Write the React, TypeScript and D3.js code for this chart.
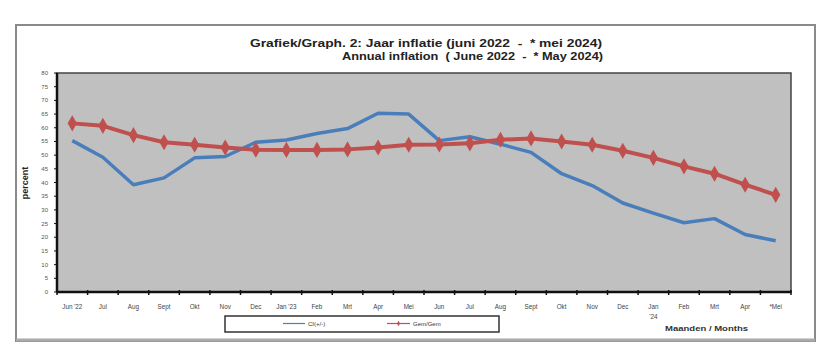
import React from "react";
import * as d3 from "d3";

const months = ["Jun '22", "Jul", "Aug", "Sept", "Okt", "Nov", "Dec", "Jan '23", "Feb", "Mrt", "Apr", "Mei", "Jun", "Jul", "Aug", "Sept", "Okt", "Nov", "Dec", "Jan\n'24", "Feb", "Mrt", "Apr", "*Mei"];
const blueValues = [55.3, 49.2, 39.2, 41.7, 49.0, 49.5, 54.7, 55.5, 57.9, 59.7, 65.3, 65.0, 55.3, 56.7, 54.0, 51.0, 43.2, 38.9, 32.5, 28.8, 25.3, 26.8, 21.0, 18.7];
const redValues = [61.6, 60.7, 57.3, 54.7, 53.8, 52.8, 52.0, 51.9, 51.9, 52.1, 52.8, 53.8, 53.9, 54.3, 55.6, 56.1, 55.0, 53.8, 51.6, 49.0, 45.9, 43.2, 39.2, 35.5];
const yTicks = d3.range(0, 81, 5);
const seriesNames = ["CI(+/-)", "Gem/Gem"];
const titleLines = ["Grafiek/Graph. 2: Jaar inflatie (juni 2022  -  * mei 2024)", "Annual inflation  ( June 2022  -  * May 2024)"];

export default function App() {
  const W = 828, H = 355;
  const left = 57, right = 791, top = 73, bottom = 292;
  const x = d3.scaleBand<number>().domain(d3.range(months.length)).range([left, right]);
  const y = d3.scaleLinear().domain([0, 80]).range([bottom, top]);
  const cx = (i: number) => (x(i) as number) + x.bandwidth() / 2;
  const line = d3.line<number>().x((_, i) => cx(i)).y((v) => y(v));
  const diamond = d3.symbol().type(d3.symbolDiamond).size(75)() as string;
  const blue = "#4a7ebb";
  const red = "#c0504d";
  const font = "Liberation Sans, Arial, sans-serif";

  return (
    <svg width={W} height={H} style={{ position: "absolute", left: 0, top: 0, background: "#fff" }} fontFamily={font}>
      {/* outer frame */}
      <rect x={16} y={25} width={799} height={316} fill="#fff" stroke="#8a8a8a" strokeWidth={2} />
      <line x1={16} x2={815} y1={340} y2={340} stroke="#aaa" strokeWidth={3} />
      {/* title */}
      <text x={250} y={47} fontSize={11.5} fontWeight="bold" fill="#222" textLength={352} lengthAdjust="spacingAndGlyphs" style={{ whiteSpace: "pre" }}>{titleLines[0]}</text>
      <text x={342} y={60} fontSize={11.5} fontWeight="bold" fill="#222" textLength={261} lengthAdjust="spacingAndGlyphs" style={{ whiteSpace: "pre" }}>{titleLines[1]}</text>
      {/* plot area */}
      <rect x={left} y={top} width={right - left} height={bottom - top} fill="#c0c0c0" stroke="#444" strokeWidth={1.5} />
      {/* y axis */}
      <line x1={left} x2={left} y1={top} y2={bottom} stroke="#111" strokeWidth={2.5} />
      {yTicks.map((t) => (
        <g key={t}>
          <line x1={left - 3} x2={left} y1={y(t)} y2={y(t)} stroke="#111" strokeWidth={1} />
          <text x={48} y={y(t) + 2} fontSize={6} fill="#555" textAnchor="end">{t}</text>
        </g>
      ))}
      <text transform={`translate(28,183) rotate(-90)`} fontSize={9} fontWeight="bold" fill="#222" textAnchor="middle">percent</text>
      {/* x axis */}
      <line x1={left} x2={right} y1={bottom} y2={bottom} stroke="#111" strokeWidth={2.5} />
      {d3.range(months.length + 1).map((i) => {
        const xx = i < months.length ? (x(i) as number) : right;
        return <line key={i} x1={xx} x2={xx} y1={bottom - 2} y2={bottom + 3} stroke="#111" strokeWidth={1.5} />;
      })}
      {months.map((m, i) => {
        const parts = m.split("\n");
        return (
          <text key={i} x={cx(i)} y={309} fontSize={6.3} fill="#444" textAnchor="middle">
            {parts.map((p, j) => (
              <tspan key={j} x={cx(i)} dy={j === 0 ? 0 : 10}>{p}</tspan>
            ))}
          </text>
        );
      })}
      <text x={665} y={331} fontSize={8} fontWeight="bold" fill="#333" textLength={83} lengthAdjust="spacingAndGlyphs">Maanden / Months</text>
      {/* series */}
      <path d={line(blueValues) as string} fill="none" stroke={blue} strokeWidth={3.5} strokeLinejoin="round" />
      <path d={line(redValues) as string} fill="none" stroke={red} strokeWidth={4} strokeLinejoin="round" />
      {redValues.map((v, i) => (
        <path key={i} d={diamond} transform={`translate(${cx(i)},${y(v)})`} fill={red} />
      ))}
      {/* legend */}
      <rect x={225} y={316} width={274} height={16} fill="#fff" stroke="#333" strokeWidth={1.5} />
      <line x1={283} x2={305} y1={323.5} y2={323.5} stroke={blue} strokeWidth={1.2} />
      <text x={308} y={326} fontSize={6} fill="#333">{seriesNames[0]}</text>
      <line x1={387} x2={410} y1={323.5} y2={323.5} stroke={red} strokeWidth={1.2} />
      <path d={d3.symbol().type(d3.symbolDiamond).size(8)() as string} transform="translate(398.5,323.5)" fill={red} />
      <text x={413} y={326} fontSize={6} fill="#333">{seriesNames[1]}</text>
    </svg>
  );
}
